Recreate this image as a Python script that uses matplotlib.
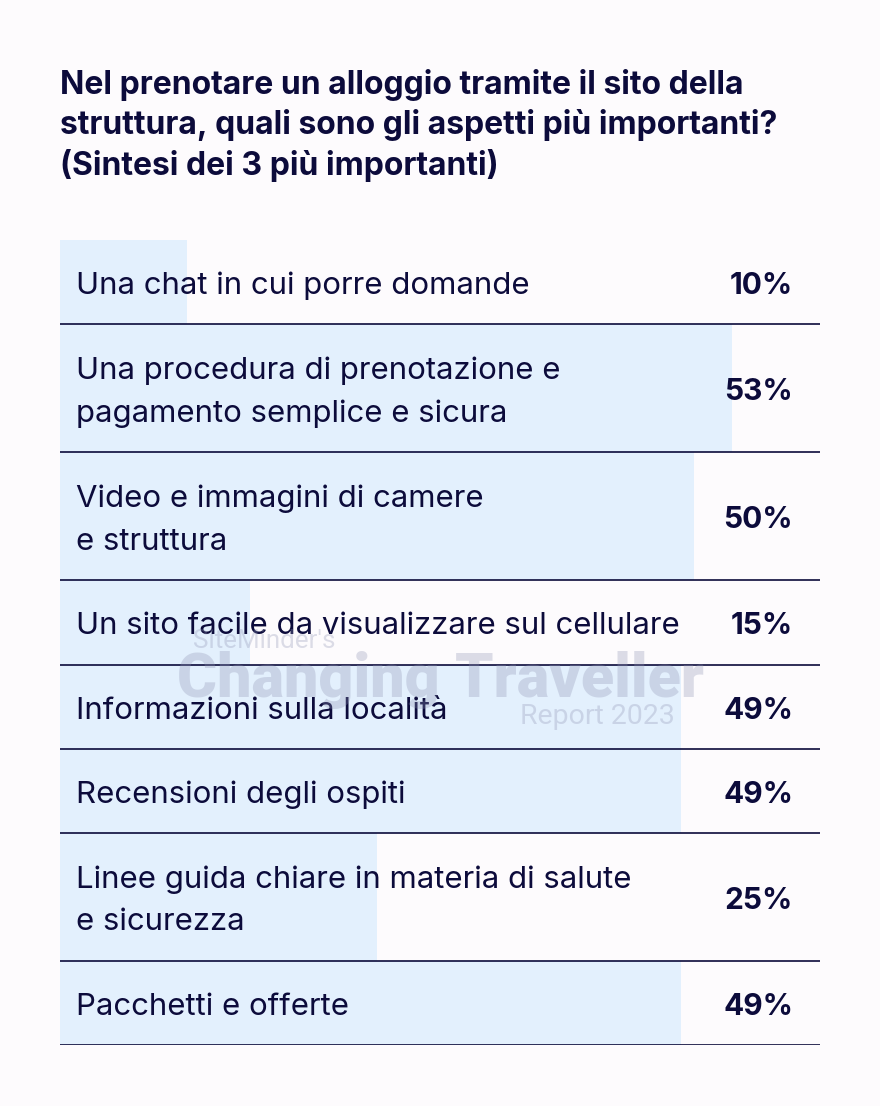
import matplotlib.pyplot as plt
from matplotlib.transforms import blended_transform_factory

# data
labels = [
    "Una chat in cui porre domande",
    "Una procedura di prenotazione e\npagamento semplice e sicura",
    "Video e immagini di camere\ne struttura",
    "Un sito facile da visualizzare sul cellulare",
    "Informazioni sulla località",
    "Recensioni degli ospiti",
    "Linee guida chiare in materia di salute\ne sicurezza",
    "Pacchetti e offerte",
]
values = [10, 53, 50, 15, 49, 49, 25, 49]

title = ("Nel prenotare un alloggio tramite il sito della\n"
         "struttura, quali sono gli aspetti più importanti?\n"
         "(Sintesi dei 3 più importanti)")

navy = "#0c0b3b"
bar_col = "#e3f0fd"
bg = "#fdfbfd"

plt.rcParams['font.family'] = ['Inter', 'DejaVu Sans']

W, H = 880, 1106
fig = plt.figure(figsize=(W / 100, H / 100), dpi=100, facecolor=bg)

# axes placed in pixel terms: x 60..820, y 240..1045
top, bottom = 240, 1045
ax = fig.add_axes([60 / W, 1 - bottom / H, 760 / W, (bottom - top) / H])
ax.set_facecolor(bg)

# row heights follow the number of text lines
row_h = [84 if "\n" not in l else 128 for l in labels]
centers = []
y = 0
for h in row_h:
    centers.append(y + h / 2)
    y += h
total_h = y

px_per_pct = 12.68
ax.set_xlim(0, 760 / px_per_pct)
ax.set_ylim(total_h, 0)

ax.barh(centers, values, height=row_h, color=bar_col, align='center', zorder=1)

y = 0
for h in row_h:
    y += h
    ax.axhline(y, color=navy, lw=1.2, zorder=3)

# watermark (drawn under the labels)
wm = "#8e93b3"
wfam = ['Roboto', 'DejaVu Sans']
fig.text(193 / W, 1 - 641 / H, "SiteMinder's", fontsize=18.7, color=wm, alpha=0.3,
         ha='left', va='center', family=wfam, zorder=2)
fig.text(440 / W, 1 - 680 / H, "Changing Traveller", fontsize=44, color=wm, alpha=0.3,
         ha='center', va='center', fontweight='heavy', family=wfam, zorder=2)
fig.text(675 / W, 1 - 717 / H, "Report 2023", fontsize=20.5, color=wm, alpha=0.3,
         ha='right', va='center', family=wfam, zorder=2)

tr = blended_transform_factory(ax.transAxes, ax.transData)
for c, lab, v in zip(centers, labels, values):
    ax.text(16 / 760, c + 4, lab, transform=tr, ha='left', va='center',
            fontsize=22.4, color=navy, linespacing=1.66, zorder=4)
    ax.text(733 / 760, c + 4, f"{v}%", transform=tr, ha='right', va='center',
            fontsize=21.5, color=navy, fontweight='bold', zorder=4)

ax.axis('off')

fig.text(60 / W, 1 - 69 / H, title, ha='left', va='top', fontsize=23,
         fontweight='bold', color=navy, linespacing=1.32)

fig.savefig("out.png", dpi=100, facecolor=bg)
